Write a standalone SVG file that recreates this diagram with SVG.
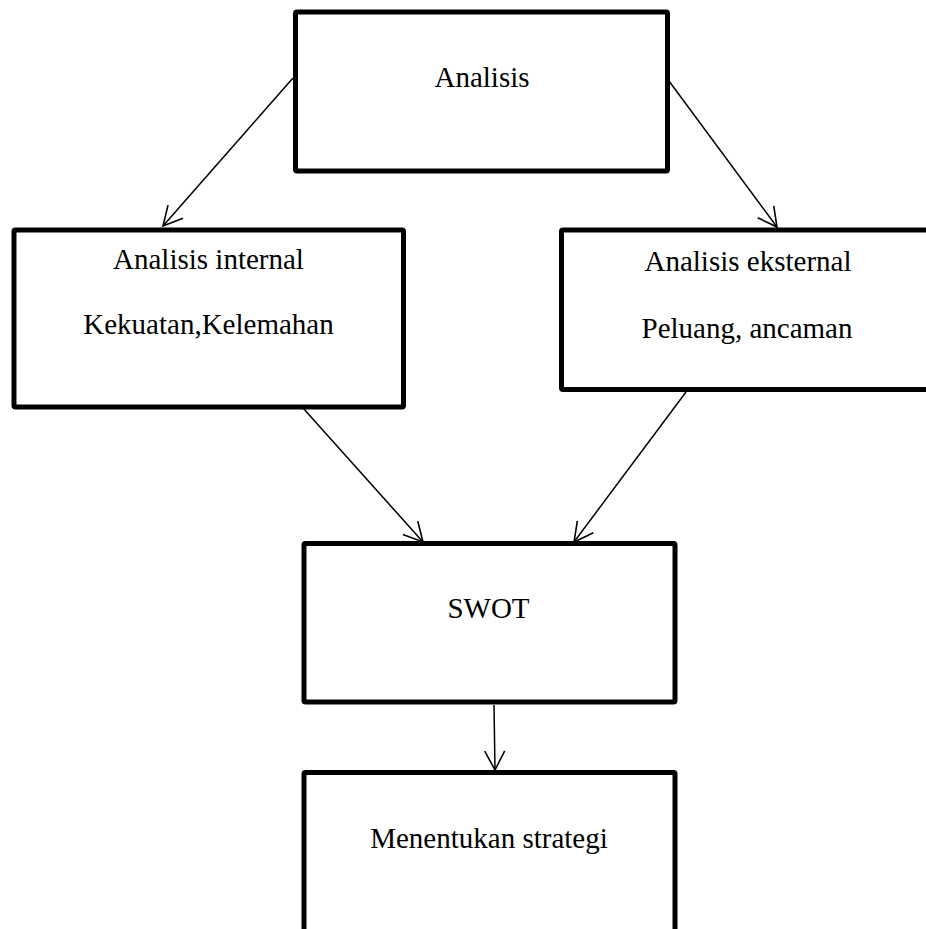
<svg xmlns="http://www.w3.org/2000/svg" width="926" height="929" viewBox="0 0 926 929">
<style>
.box{fill:#fff;stroke:#000;stroke-width:5;stroke-linejoin:round}
.t{font-family:"Liberation Serif","Times New Roman",serif;font-size:29px;fill:#000;text-anchor:middle}
.c{stroke:#000;stroke-width:1.5;fill:none;marker-end:url(#ah)}
</style>
<defs>
<marker id="ah" markerUnits="userSpaceOnUse" markerWidth="24" markerHeight="24" viewBox="-20 -12 22 24" refX="0" refY="0" orient="auto">
<path d="M-19,-10 L0,0 L-19,10" fill="none" stroke="#000" stroke-width="1.6"/>
</marker>
</defs>
<rect x="0" y="0" width="926" height="929" fill="#fff"/>
<g id="connectors">
<line class="c" x1="293" y1="78" x2="163" y2="226"/>
<line class="c" x1="669" y1="81" x2="777" y2="227"/>
<line class="c" x1="303" y1="408" x2="423" y2="542"/>
<line class="c" x1="686" y1="392" x2="574" y2="542"/>
<line class="c" x1="494" y1="705" x2="495" y2="770"/>
</g>
<g id="analisis">
<rect class="box" x="295.5" y="12" width="372" height="159" rx="1.5"/>
<text class="t" x="482" y="87">Analisis</text>
</g>
<g id="internal">
<rect class="box" x="14" y="230" width="389.5" height="177" rx="1.5"/>
<text class="t" x="208.5" y="269">Analisis internal</text>
<text class="t" x="208.5" y="334">Kekuatan,Kelemahan</text>
</g>
<g id="external">
<rect class="box" x="561.5" y="230" width="380" height="159.5" rx="1.5"/>
<text class="t" x="748" y="271">Analisis eksternal</text>
<text class="t" x="747" y="337.5">Peluang, ancaman</text>
</g>
<g id="swot">
<rect class="box" x="304" y="543.5" width="371" height="158.5" rx="1.5"/>
<text class="t" x="488.5" y="618">SWOT</text>
</g>
<g id="strategi">
<rect class="box" x="304" y="772.5" width="371" height="200" rx="1.5"/>
<text class="t" x="489" y="848">Menentukan strategi</text>
</g>
</svg>
